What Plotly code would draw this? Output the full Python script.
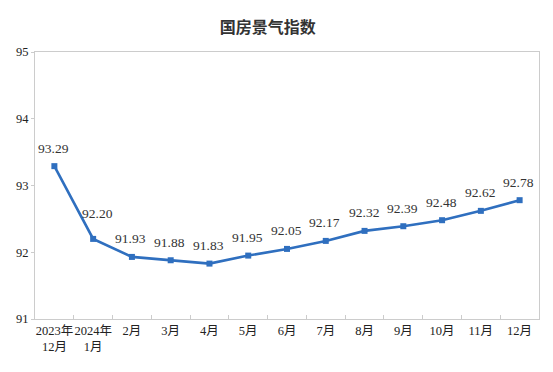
import plotly.graph_objects as go

categories = ["2023年<br>12月", "2024年<br>1月", "2月", "3月", "4月", "5月", "6月",
              "7月", "8月", "9月", "10月", "11月", "12月"]
values = [93.29, 92.20, 91.93, 91.88, 91.83, 91.95, 92.05, 92.17, 92.32, 92.39, 92.48, 92.62, 92.78]
y_ticks = [91, 92, 93, 94, 95]

serif = "Liberation Serif, Times New Roman, Noto Sans CJK SC, serif"

fig = go.Figure()
fig.add_trace(go.Scatter(
    x=categories, y=values, mode="lines+markers",
    line=dict(color="#2f6fbf", width=2.6),
    marker=dict(symbol="square", size=6, color="#2f6fbf"),
    showlegend=False,
))

for i, (c, v) in enumerate(zip(categories, values)):
    fig.add_annotation(
        x=c, y=v, text=f"{v:.2f}", showarrow=False,
        yshift=25 if i == 1 else 18, xshift=4 if i == 1 else -1,
        font=dict(family=serif, size=13.5, color="#333333"),
    )

# page body has an 8px default margin; figure is sized/offset to compensate
fig.update_layout(
    width=545, height=364,
    margin=dict(l=27, r=14, t=44, b=53, autoexpand=False),
    paper_bgcolor="white", plot_bgcolor="white",
    title=dict(text="<b>国房景气指数</b>", x=0.462, xref="paper", xanchor="center",
               y=1 - 19 / 364, yref="container", yanchor="middle",
               font=dict(family="Noto Sans CJK SC", size=16, color="#333333")),
    xaxis=dict(
        type="category", showgrid=False, showline=True, mirror=True,
        linecolor="#cccccc", linewidth=1, automargin=False,
        ticks="inside", ticklen=4, tickcolor="#cccccc", tickson="boundaries",
        tickangle=0,
        tickfont=dict(family=serif, size=12.5, color="#222222"),
        range=[-0.5, len(categories) - 0.5],
    ),
    yaxis=dict(
        range=[91, 95], tickvals=y_ticks, showgrid=False, zeroline=False,
        showline=True, mirror=True, linecolor="#cccccc", linewidth=1,
        ticks="outside", ticklen=3, tickcolor="#cccccc", automargin=False,
        tickfont=dict(family=serif, size=12.5, color="#222222"),
    ),
)

fig.write_html("out.html")
